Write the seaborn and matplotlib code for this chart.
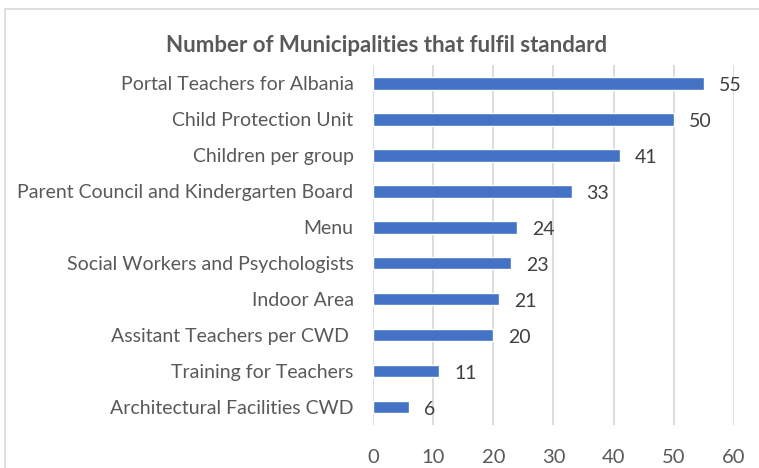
import matplotlib
matplotlib.use("Agg")
import matplotlib.pyplot as plt
import seaborn as sns
import pandas as pd
from matplotlib.patches import Rectangle

categories = ["Portal Teachers for Albania", "Child Protection Unit", "Children per group",
              "Parent Council and Kindergarten Board", "Menu", "Social Workers and Psychologists",
              "Indoor Area", "Assitant Teachers per CWD ", "Training for Teachers",
              "Architectural Facilities CWD"]
values = [55, 50, 41, 33, 24, 23, 21, 20, 11, 6]
xticks = [0, 10, 20, 30, 40, 50, 60]
title = "Number of Municipalities that fulfil standard"

sns.set_theme(style="white")
plt.rcParams['font.family'] = ['Lato', 'DejaVu Sans']

df = pd.DataFrame({"cat": categories, "val": values})
fig = plt.figure(figsize=(7.59, 4.68), dpi=100)
ax = fig.add_axes([0.4914, 0.0919, 0.967 - 0.4914, 0.861 - 0.0919])
sns.barplot(data=df, y="cat", x="val", color="#4472C4", saturation=1, width=0.36, ax=ax, zorder=3)
ax.set_xlim(0, 60)
ax.set_xticks(xticks)
ax.set_xticklabels([str(t) for t in xticks], fontsize=14.5, color="#595959")
ax.tick_params(axis='y', labelsize=14, labelcolor="#595959", length=0, pad=14)
ax.tick_params(axis='x', length=0, pad=17)
ax.set_xlabel("")
ax.set_ylabel("")
for s in ax.spines.values():
    s.set_visible(False)
ax.grid(axis='x', color="#D9D9D9", linewidth=1.3, zorder=0)
ax.set_axisbelow(True)
for i, v in enumerate(values):
    ax.text(v + 2.5, i + 0.07, str(v), va='center', ha='left', fontsize=14, color="#404040")
fig.text(387 / 759, 1 - 46 / 468, title, ha='center', va='center', fontsize=16,
         fontweight='bold', color="#595959")
fig.patches.append(Rectangle((5 / 759, -0.1), 1.2, 1 - 9 / 468 + 0.1, transform=fig.transFigure,
                             fill=False, edgecolor="#D9D9D9", linewidth=1.2))
fig.savefig("out.png", dpi=100)
